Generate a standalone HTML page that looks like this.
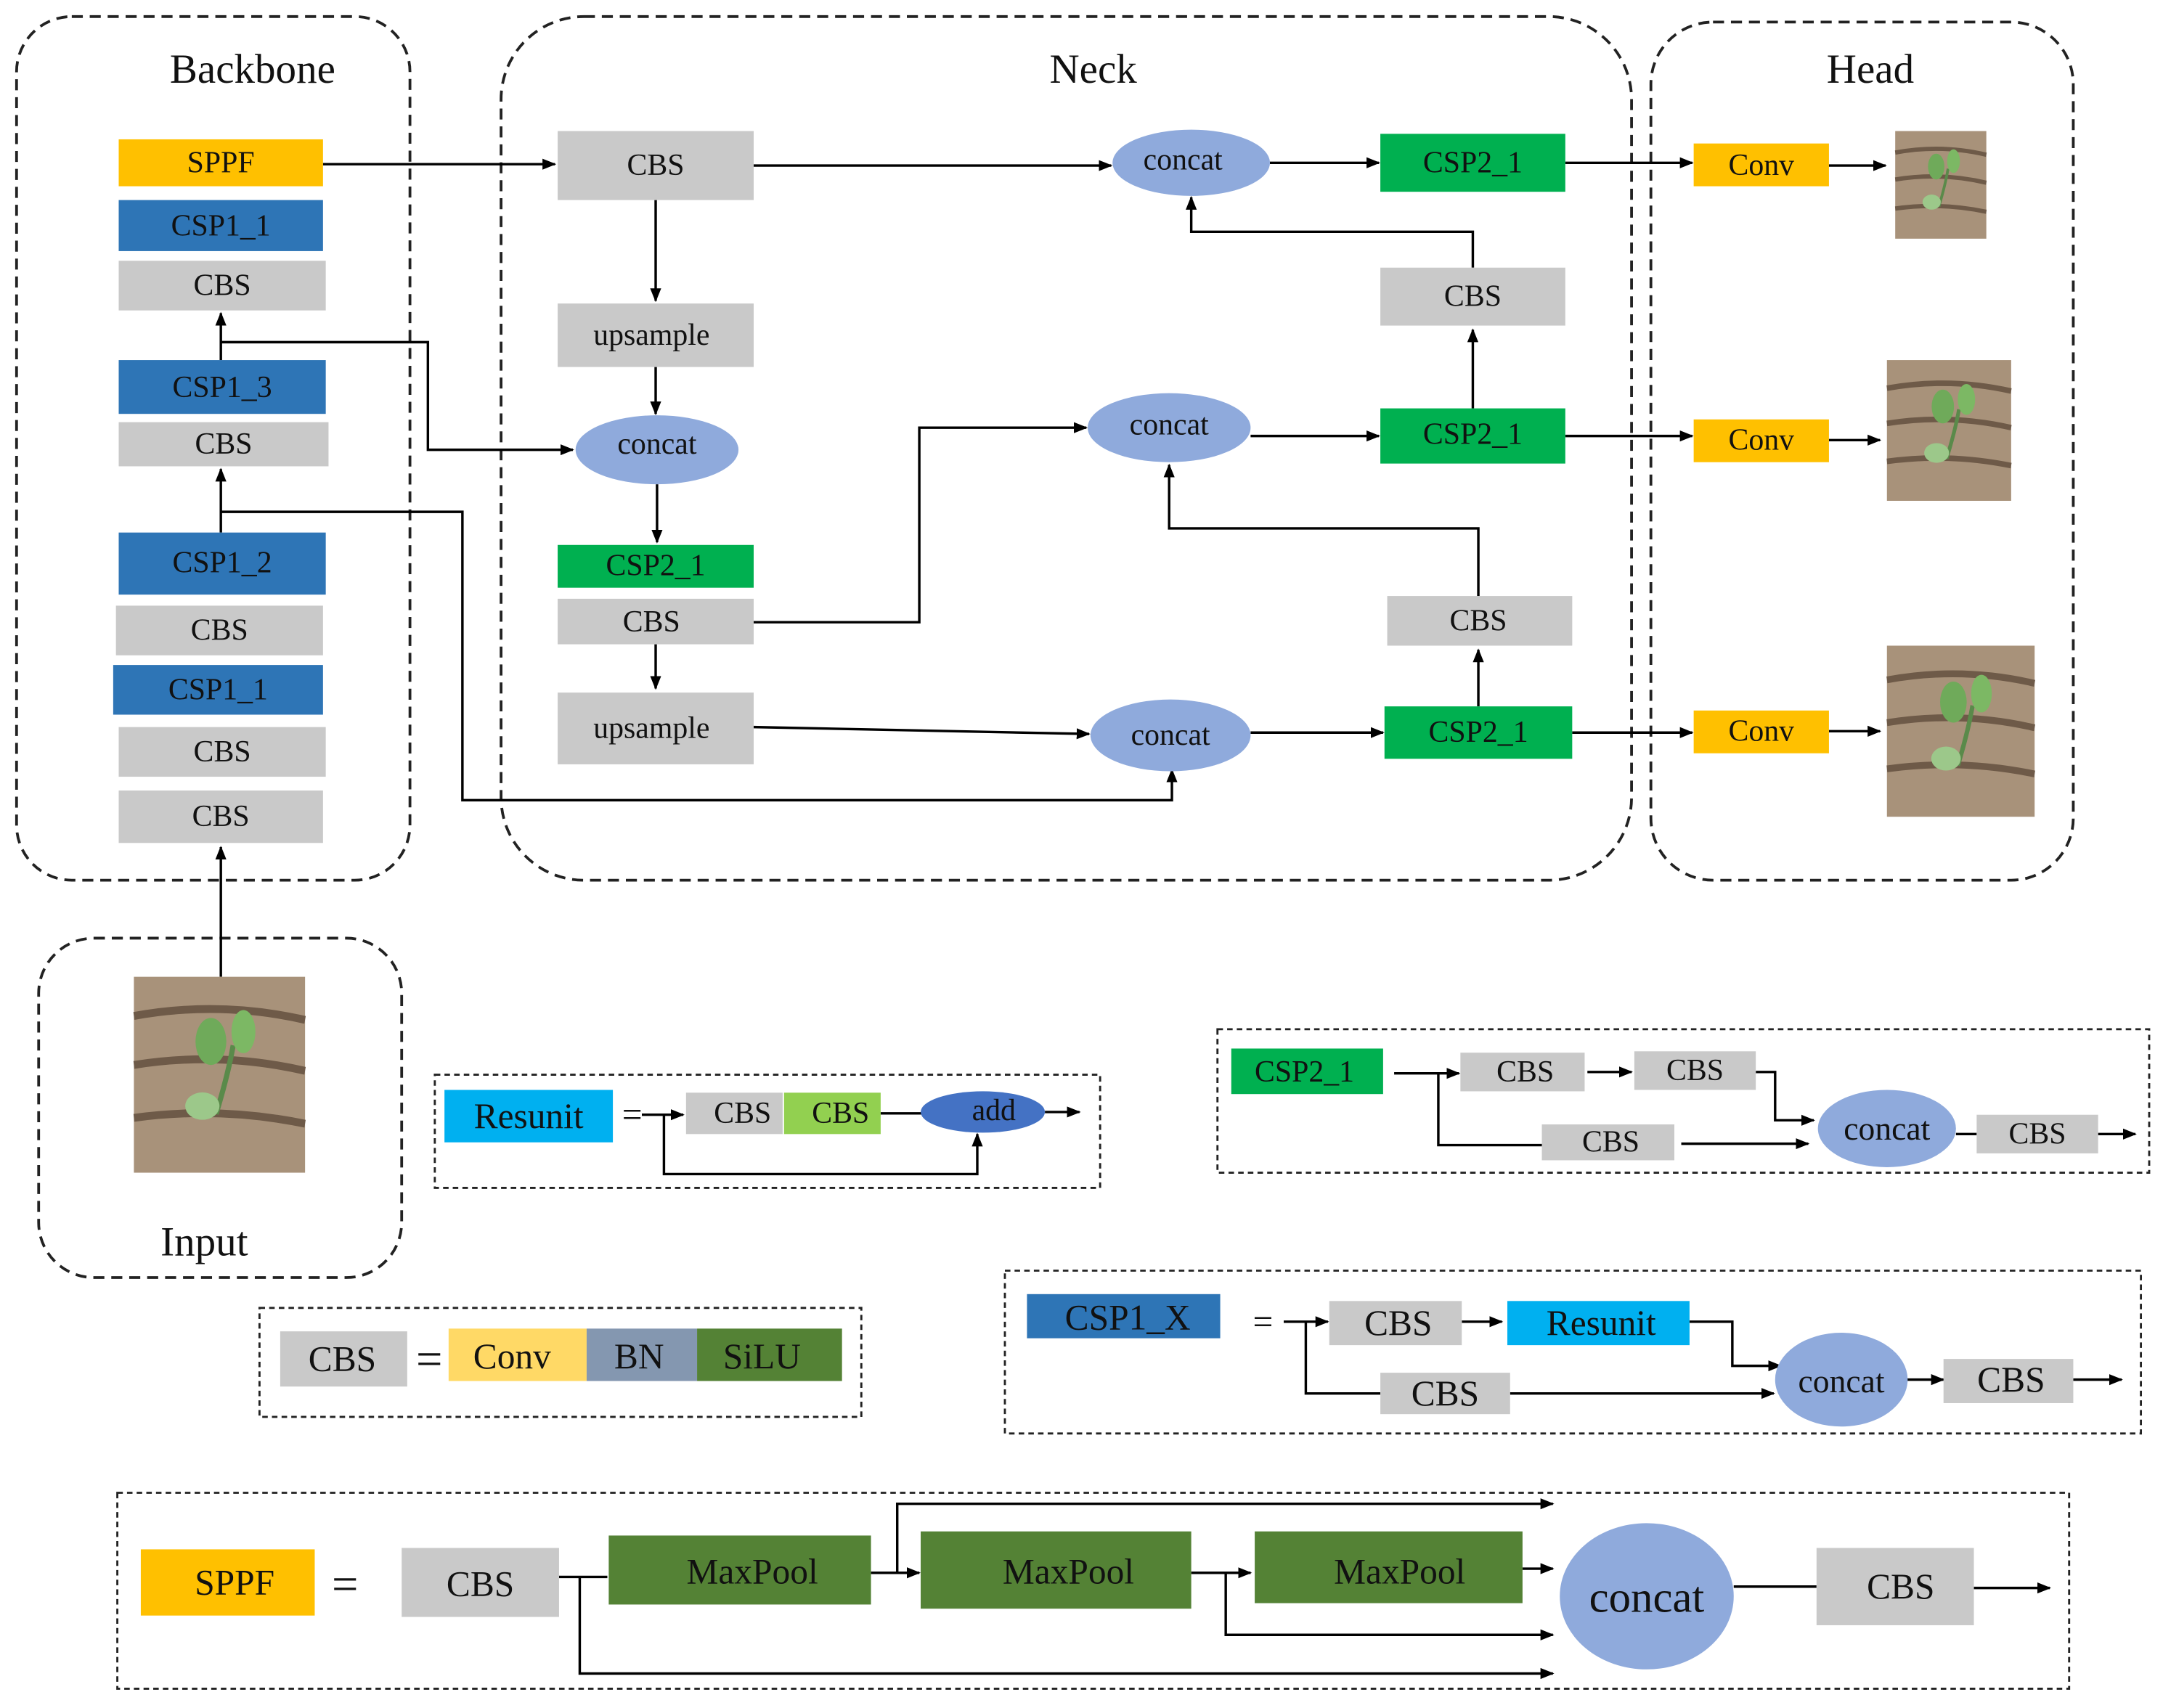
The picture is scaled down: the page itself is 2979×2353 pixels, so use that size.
<!DOCTYPE html>
<html><head><meta charset="utf-8"><style>
html,body{margin:0;padding:0;background:#fff;}
svg{display:block;}
text{font-family:"Liberation Serif",serif;fill:#111;}
</style></head><body>
<svg width="2979" height="2353" viewBox="0 0 1567 1238" preserveAspectRatio="none" xmlns="http://www.w3.org/2000/svg">
<defs>
<marker id="a" markerWidth="10" markerHeight="10" refX="9" refY="5" orient="auto" markerUnits="userSpaceOnUse">
<path d="M0,1 L10,5 L0,9 Z" fill="#000"/></marker>
<g id="plant">
<rect x="0" y="0" width="100" height="100" fill="#a8927a"/>
<path d="M0,20 Q50,12 100,22 M0,45 Q50,38 100,48 M0,72 Q50,66 100,75" stroke="#6e5a48" stroke-width="4" fill="none"/>
<path d="M48,70 Q55,50 58,35" stroke="#5a8a4a" stroke-width="3" fill="none"/>
<ellipse cx="45" cy="33" rx="9" ry="12" fill="#6faa5a"/>
<ellipse cx="64" cy="28" rx="7" ry="11" fill="#7cb864"/>
<ellipse cx="40" cy="66" rx="10" ry="7" fill="#9cc88a"/>
</g>
</defs>
<g fill="none" stroke="#222" stroke-width="2" stroke-dasharray="8,5">
<rect x="12" y="12" width="285" height="626" rx="40"/>
<rect x="363" y="12" width="819" height="626" rx="60"/>
<rect x="1196" y="16" width="306" height="622" rx="45"/>
<rect x="28" y="680" width="263" height="246" rx="40"/>
</g>
<g fill="none" stroke="#222" stroke-width="1.5" stroke-dasharray="4,3">
<rect x="315" y="779" width="482" height="82"/>
<rect x="882" y="746" width="675" height="104"/>
<rect x="728" y="921" width="823" height="118"/>
<rect x="188" y="948" width="436" height="79"/>
<rect x="85" y="1082" width="1414" height="142"/>
</g>
<g font-size="30" text-anchor="middle">
<text x="183" y="60">Backbone</text><text x="792" y="60">Neck</text><text x="1355" y="60">Head</text><text x="148" y="910">Input</text>
</g>
<!-- connectors -->
<g stroke="#000" stroke-width="1.8" fill="none">
<path d="M160,708 V614" marker-end="url(#a)"/>
<path d="M160,386 V340" marker-end="url(#a)"/>
<path d="M160,261 V227" marker-end="url(#a)"/>
<path d="M160,248 H310 V326 H415" marker-end="url(#a)"/>
<path d="M160,371 H335 V580 H849 V558" marker-end="url(#a)"/>
<path d="M234,119 H402" marker-end="url(#a)"/>
<path d="M475,145 V218" marker-end="url(#a)"/>
<path d="M475,266 V300" marker-end="url(#a)"/>
<path d="M476,351 V393" marker-end="url(#a)"/>
<path d="M475,467 V499" marker-end="url(#a)"/>
<path d="M546,451 H666 V310 H787" marker-end="url(#a)"/>
<path d="M546,527 L789,532" marker-end="url(#a)"/>
<path d="M546,120 H805" marker-end="url(#a)"/>
<path d="M920,118 H999" marker-end="url(#a)"/>
<path d="M1067,194 V168 H863 V143" marker-end="url(#a)"/>
<path d="M1067,296 V239" marker-end="url(#a)"/>
<path d="M906,316 H999" marker-end="url(#a)"/>
<path d="M1071,432 V383 H847 V337" marker-end="url(#a)"/>
<path d="M1071,512 V471" marker-end="url(#a)"/>
<path d="M906,531 H1002" marker-end="url(#a)"/>
<path d="M1134,118 H1226" marker-end="url(#a)"/>
<path d="M1325,120 H1366" marker-end="url(#a)"/>
<path d="M1134,316 H1226" marker-end="url(#a)"/>
<path d="M1325,319 H1362" marker-end="url(#a)"/>
<path d="M1139,531 H1226" marker-end="url(#a)"/>
<path d="M1325,530 H1362" marker-end="url(#a)"/>
<!-- resunit -->
<path d="M465,808 H495" marker-end="url(#a)"/>
<path d="M638,807 H668"/>
<path d="M757,806 H782" marker-end="url(#a)"/>
<path d="M481,808 V851 H708 V822" marker-end="url(#a)"/>
<!-- csp2 -->
<path d="M1010,778 H1057" marker-end="url(#a)"/>
<path d="M1150,777 H1182" marker-end="url(#a)"/>
<path d="M1272,777 H1286 V812 H1314" marker-end="url(#a)"/>
<path d="M1042,778 V830 H1117"/>
<path d="M1218,829 H1310" marker-end="url(#a)"/>
<path d="M1417,822 H1432"/>
<path d="M1520,822 H1547" marker-end="url(#a)"/>
<!-- csp1x -->
<path d="M930,958 H962" marker-end="url(#a)"/>
<path d="M1059,958 H1088" marker-end="url(#a)"/>
<path d="M1224,958 H1255 V990 H1290" marker-end="url(#a)"/>
<path d="M946,958 V1010 H1000"/>
<path d="M1094,1010 H1285" marker-end="url(#a)"/>
<path d="M1380,1000 H1408" marker-end="url(#a)"/>
<path d="M1502,1000 H1537" marker-end="url(#a)"/>
<!-- sppf -->
<path d="M405,1143 H440"/>
<path d="M631,1140 H666" marker-end="url(#a)"/>
<path d="M863,1140 H906" marker-end="url(#a)"/>
<path d="M1103,1137 H1125" marker-end="url(#a)"/>
<path d="M1256,1150 H1316"/>
<path d="M1430,1151 H1485" marker-end="url(#a)"/>
<path d="M650,1140 V1090 H1125" marker-end="url(#a)"/>
<path d="M888,1140 V1185 H1125" marker-end="url(#a)"/>
<path d="M420,1143 V1213 H1125" marker-end="url(#a)"/>
</g>
<!-- blocks -->
<g font-size="22" text-anchor="middle" dominant-baseline="central">
<rect x="86" y="101" width="148" height="34" fill="#FFC000"/><text x="160" y="118">SPPF</text>
<rect x="86" y="145" width="148" height="37" fill="#2E75B6"/><text x="160" y="164">CSP1_1</text>
<rect x="86" y="189" width="150" height="36" fill="#C9C9C9"/><text x="161" y="207">CBS</text>
<rect x="86" y="261" width="150" height="39" fill="#2E75B6"/><text x="161" y="281">CSP1_3</text>
<rect x="86" y="306" width="152" height="32" fill="#C9C9C9"/><text x="162" y="322">CBS</text>
<rect x="86" y="386" width="150" height="45" fill="#2E75B6"/><text x="161" y="408">CSP1_2</text>
<rect x="84" y="439" width="150" height="36" fill="#C9C9C9"/><text x="159" y="457">CBS</text>
<rect x="82" y="482" width="152" height="36" fill="#2E75B6"/><text x="158" y="500">CSP1_1</text>
<rect x="86" y="527" width="150" height="36" fill="#C9C9C9"/><text x="161" y="545">CBS</text>
<rect x="86" y="573" width="148" height="38" fill="#C9C9C9"/><text x="160" y="592">CBS</text>

<rect x="404" y="95" width="142" height="50" fill="#C9C9C9"/><text x="475" y="120">CBS</text>
<rect x="404" y="220" width="142" height="46" fill="#C9C9C9"/><text x="472" y="243">upsample</text>
<ellipse cx="476" cy="326" rx="59" ry="25" fill="#8FAADC"/><text x="476" y="322">concat</text>
<rect x="404" y="395" width="142" height="31" fill="#00B050"/><text x="475" y="410">CSP2_1</text>
<rect x="404" y="434" width="142" height="33" fill="#C9C9C9"/><text x="472" y="451">CBS</text>
<rect x="404" y="502" width="142" height="52" fill="#C9C9C9"/><text x="472" y="528">upsample</text>
<ellipse cx="847" cy="310" rx="59" ry="25" fill="#8FAADC"/><text x="847" y="308">concat</text>
<ellipse cx="848" cy="533" rx="58" ry="26" fill="#8FAADC"/><text x="848" y="533">concat</text>
<ellipse cx="863" cy="118" rx="57" ry="24" fill="#8FAADC"/><text x="857" y="116">concat</text>
<rect x="1000" y="97" width="134" height="42" fill="#00B050"/><text x="1067" y="118">CSP2_1</text>
<rect x="1000" y="194" width="134" height="42" fill="#C9C9C9"/><text x="1067" y="215">CBS</text>
<rect x="1000" y="296" width="134" height="40" fill="#00B050"/><text x="1067" y="315">CSP2_1</text>
<rect x="1005" y="432" width="134" height="36" fill="#C9C9C9"/><text x="1071" y="450">CBS</text>
<rect x="1003" y="512" width="136" height="38" fill="#00B050"/><text x="1071" y="531">CSP2_1</text>
<rect x="1227" y="104" width="98" height="31" fill="#FFC000"/><text x="1276" y="120">Conv</text>
<rect x="1227" y="304" width="98" height="31" fill="#FFC000"/><text x="1276" y="319">Conv</text>
<rect x="1227" y="515" width="98" height="31" fill="#FFC000"/><text x="1276" y="530">Conv</text>
</g>
<use href="#plant" transform="translate(1373,95) scale(0.66,0.78)"/>
<use href="#plant" transform="translate(1367,261) scale(0.9,1.02)"/>
<use href="#plant" transform="translate(1367,468) scale(1.07,1.24)"/>
<use href="#plant" transform="translate(97,708) scale(1.24,1.42)"/>
<!-- legends -->
<g font-size="26" text-anchor="middle" dominant-baseline="central">
<rect x="322" y="790" width="122" height="38" fill="#00B0F0"/><text x="383" y="809">Resunit</text>
<text x="458" y="808">=</text>
<rect x="497" y="792" width="70" height="30" fill="#C9C9C9"/><text x="538" y="807" font-size="22">CBS</text>
<rect x="568" y="792" width="70" height="30" fill="#92D050"/><text x="609" y="807" font-size="22">CBS</text>
<ellipse cx="712" cy="806" rx="45" ry="15" fill="#4472C4"/><text x="720" y="805" font-size="22">add</text>

<rect x="892" y="760" width="110" height="33" fill="#00B050"/><text x="945" y="777" font-size="22">CSP2_1</text>
<rect x="1058" y="763" width="90" height="28" fill="#C9C9C9"/><text x="1105" y="777" font-size="22">CBS</text>
<rect x="1184" y="762" width="88" height="28" fill="#C9C9C9"/><text x="1228" y="776" font-size="22">CBS</text>
<rect x="1117" y="815" width="96" height="26" fill="#C9C9C9"/><text x="1167" y="828" font-size="22">CBS</text>
<ellipse cx="1367" cy="818" rx="50" ry="28" fill="#8FAADC"/><text x="1367" y="818" font-size="24">concat</text>
<rect x="1432" y="808" width="88" height="28" fill="#C9C9C9"/><text x="1476" y="822" font-size="22">CBS</text>

<rect x="744" y="938" width="140" height="32" fill="#2E75B6"/><text x="817" y="955">CSP1_X</text>
<text x="915" y="958">=</text>
<rect x="963" y="943" width="96" height="32" fill="#C9C9C9"/><text x="1013" y="959">CBS</text>
<rect x="1092" y="943" width="132" height="32" fill="#00B0F0"/><text x="1160" y="959">Resunit</text>
<rect x="1000" y="995" width="94" height="30" fill="#C9C9C9"/><text x="1047" y="1010">CBS</text>
<ellipse cx="1334" cy="1000" rx="48" ry="34" fill="#8FAADC"/><text x="1334" y="1001" font-size="24">concat</text>
<rect x="1408" y="985" width="94" height="32" fill="#C9C9C9"/><text x="1457" y="1000">CBS</text>

<rect x="203" y="965" width="92" height="40" fill="#C9C9C9"/><text x="248" y="985">CBS</text>
<text x="311" y="985" font-size="34">=</text>
<rect x="325" y="963" width="100" height="38" fill="#FFD966"/><text x="371" y="983">Conv</text>
<rect x="425" y="963" width="80" height="38" fill="#8497B0"/><text x="463" y="983">BN</text>
<rect x="505" y="963" width="105" height="38" fill="#548235"/><text x="552" y="983">SiLU</text>

<rect x="102" y="1123" width="126" height="48" fill="#FFC000"/><text x="170" y="1147">SPPF</text>
<text x="250" y="1148" font-size="34">=</text>
<rect x="291" y="1122" width="114" height="50" fill="#C9C9C9"/><text x="348" y="1148">CBS</text>
<rect x="441" y="1113" width="190" height="50" fill="#548235"/><text x="545" y="1139">MaxPool</text>
<rect x="667" y="1110" width="196" height="56" fill="#548235"/><text x="774" y="1139">MaxPool</text>
<rect x="909" y="1110" width="194" height="52" fill="#548235"/><text x="1014" y="1139">MaxPool</text>
<ellipse cx="1193" cy="1157" rx="63" ry="53" fill="#8FAADC"/><text x="1193" y="1158" font-size="32">concat</text>
<rect x="1316" y="1122" width="114" height="56" fill="#C9C9C9"/><text x="1377" y="1150">CBS</text>
</g>
</svg>
</body></html>
